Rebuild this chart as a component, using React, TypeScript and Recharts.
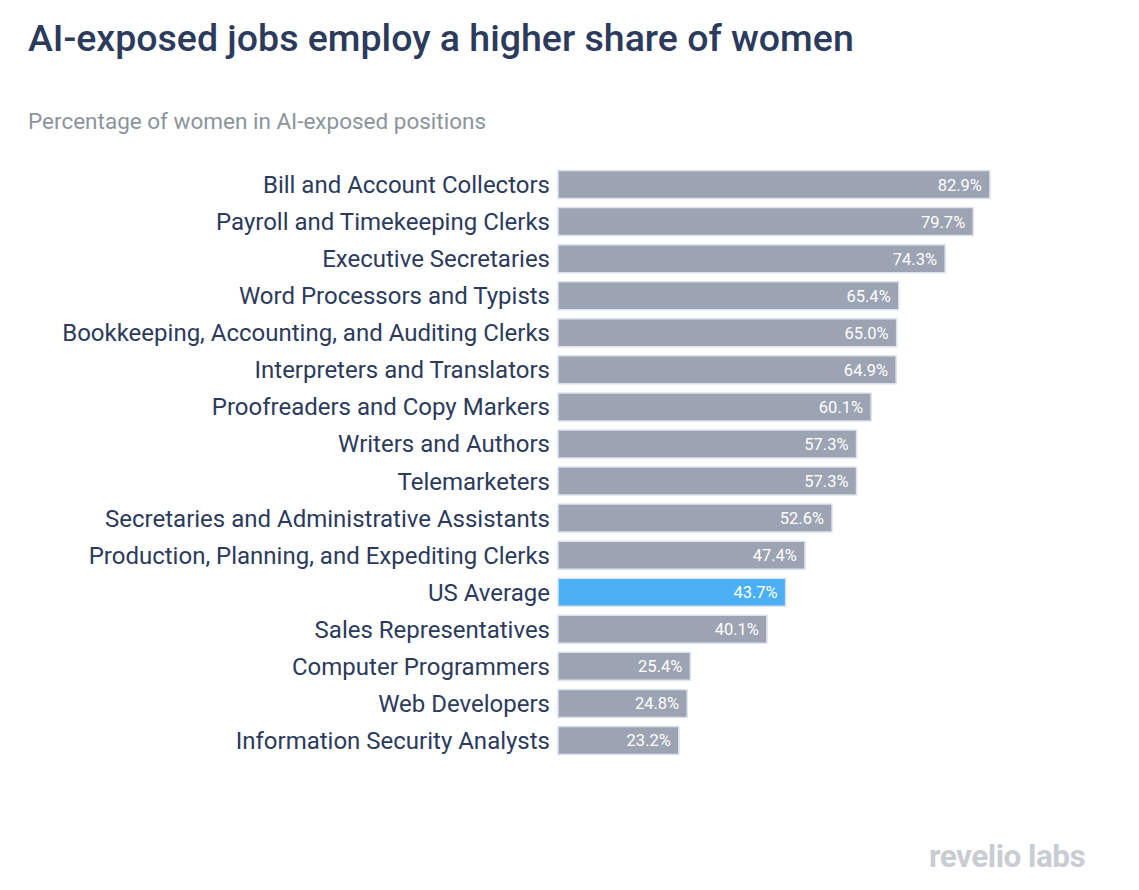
import React from "react";
import { BarChart, Bar, XAxis, YAxis, Cell, LabelList } from "recharts";

const categories = [
  "Bill and Account Collectors",
  "Payroll and Timekeeping Clerks",
  "Executive Secretaries",
  "Word Processors and Typists",
  "Bookkeeping, Accounting, and Auditing Clerks",
  "Interpreters and Translators",
  "Proofreaders and Copy Markers",
  "Writers and Authors",
  "Telemarketers",
  "Secretaries and Administrative Assistants",
  "Production, Planning, and Expediting Clerks",
  "US Average",
  "Sales Representatives",
  "Computer Programmers",
  "Web Developers",
  "Information Security Analysts",
];
const values = [82.9, 79.7, 74.3, 65.4, 65.0, 64.9, 60.1, 57.3, 57.3, 52.6, 47.4, 43.7, 40.1, 25.4, 24.8, 23.2];
const highlight = "US Average";

const data = categories.map((c, i) => ({ name: c, value: values[i] }));

const FONT = "Roboto, 'Noto Sans', sans-serif";

const Tick = (props: any) => {
  const { y, payload } = props;
  return (
    <text x={550} y={y} dy={9} textAnchor="end" fontSize={24} fill="#2c3a5c" fontFamily={FONT}>
      {payload.value}
    </text>
  );
};

const ValueLabel = (props: any) => {
  const { x, y, width, height, value } = props;
  return (
    <text x={x + width - 8} y={y + height / 2} dy={6} textAnchor="end" fontSize={16.5} fill="#ffffff" fontFamily={FONT}>
      {Number(value).toFixed(1)}%
    </text>
  );
};

export default function App() {
  return (
    <div style={{ position: "absolute", top: 0, left: 0, width: 1139, height: 890, background: "#fff", fontFamily: FONT }}>
      <div style={{ position: "absolute", left: 28, top: 16, fontSize: 37.5, fontWeight: 500, color: "#2c3a5c", whiteSpace: "nowrap" }}>
        AI-exposed jobs employ a higher share of women
      </div>
      <div style={{ position: "absolute", left: 28, top: 108, fontSize: 22.5, color: "#8c949e", whiteSpace: "nowrap" }}>
        Percentage of women in AI-exposed positions
      </div>
      <BarChart
        width={1139}
        height={890}
        data={data}
        layout="vertical"
        margin={{ top: 165.5, right: 60, bottom: 131.5, left: 0 }}
        barSize={28}
      >
        <XAxis type="number" domain={[0, 100]} hide />
        <YAxis type="category" dataKey="name" width={558} axisLine={false} tickLine={false} tick={<Tick />} interval={0} />
        <Bar dataKey="value" isAnimationActive={false} stroke="#dde3ec" strokeWidth={1.5}>
          {data.map((d) => (
            <Cell key={d.name} fill={d.name === highlight ? "#4aaff3" : "#9ca3b2"} />
          ))}
          <LabelList dataKey="value" content={<ValueLabel />} />
        </Bar>
      </BarChart>
      <div style={{ position: "absolute", left: 929, top: 838, fontSize: 31.5, fontWeight: 700, color: "#c9cdd3", whiteSpace: "nowrap", letterSpacing: -0.5 }}>
        revelio labs
      </div>
    </div>
  );
}
